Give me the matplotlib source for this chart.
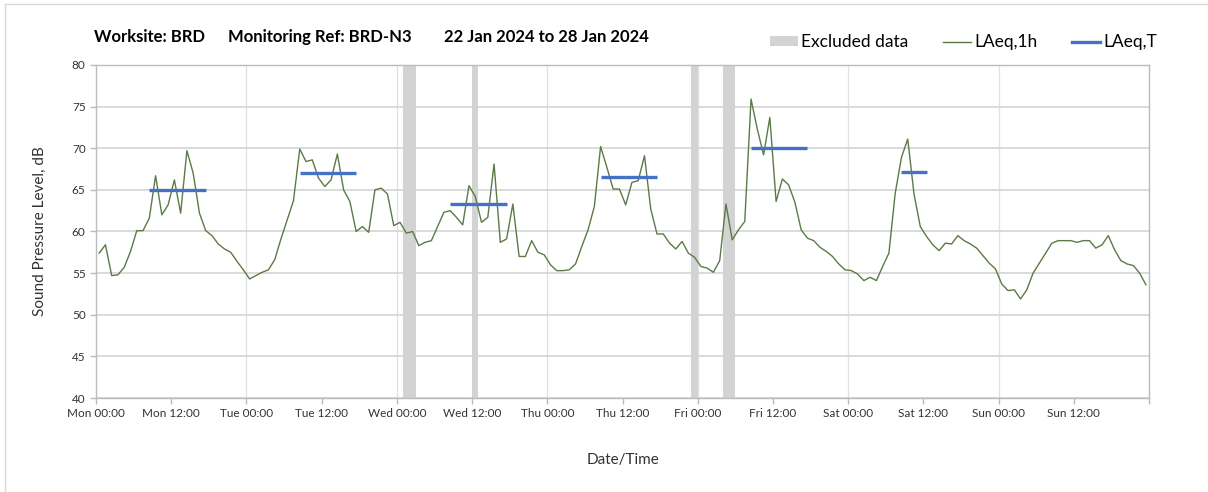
import numpy as np
import pandas as pd
import matplotlib
matplotlib.use("Agg")
import matplotlib.pyplot as plt
import matplotlib.dates as mdates
from matplotlib.patches import Patch
from matplotlib.lines import Line2D

plt.rcParams['font.family'] = ['Lato', 'DejaVu Sans']

# hourly LAeq,1h values, Mon 22 Jan 00:00 .. Sun 28 Jan 23:00
mon = [57.4, 58.4, 54.7, 54.8, 55.7, 57.6, 60.1, 60.1, 61.6, 66.7, 62.0, 63.2,
       66.2, 62.2, 69.7, 67.0, 62.2, 60.1, 59.5, 58.5, 57.9, 57.5, 56.4, 55.4]
tue = [54.3, 54.7, 55.1, 55.4, 56.6, 59.1, 61.4, 63.7, 69.9, 68.4, 68.6, 66.4,
       65.4, 66.2, 69.3, 65.0, 63.6, 60.0, 60.6, 59.9, 65.0, 65.2, 64.5, 60.7]
wed = [61.1, 59.8, 60.0, 58.3, 58.7, 58.9, 60.6, 62.3, 62.5, 61.7, 60.8, 65.5,
       64.2, 61.1, 61.7, 68.1, 58.7, 59.1, 63.3, 57.0, 57.0, 58.9, 57.5, 57.2]
thu = [56.0, 55.3, 55.3, 55.4, 56.1, 58.2, 60.2, 63.0, 70.2, 67.7, 65.1, 65.1,
       63.2, 65.9, 66.1, 69.1, 62.7, 59.7, 59.7, 58.6, 57.9, 58.8, 57.4, 56.9]
fri = [55.8, 55.6, 55.1, 56.5, 63.3, 59.0, 60.2, 61.2, 75.9, 72.3, 69.2, 73.7,
       63.6, 66.3, 65.6, 63.5, 60.2, 59.2, 58.9, 58.1, 57.6, 57.0, 56.1, 55.4]
sat = [55.3, 54.9, 54.1, 54.5, 54.1, 55.8, 57.4, 64.6, 68.9, 71.1, 64.5, 60.6,
       59.4, 58.4, 57.7, 58.6, 58.5, 59.5, 58.9, 58.5, 58.0, 57.1, 56.2, 55.5]
sun = [53.7, 52.9, 53.0, 51.9, 53.0, 55.0, 56.2, 57.4, 58.6, 58.9, 58.9, 58.9,
       58.7, 58.9, 58.9, 58.0, 58.4, 59.5, 57.8, 56.5, 56.1, 55.9, 55.0, 53.6]
laeq_1h = mon + tue + wed + thu + fri + sat + sun

# LAeq,T working periods (start, end, level)
t_start = ['2024-01-22 08:00', '2024-01-23 08:00', '2024-01-24 08:00',
           '2024-01-25 08:00', '2024-01-26 08:00', '2024-01-27 08:00']
t_end = ['2024-01-22 18:00', '2024-01-23 18:00', '2024-01-24 18:00',
         '2024-01-25 18:00', '2024-01-26 18:00', '2024-01-27 13:00']
laeq_t = [65.0, 67.0, 63.3, 66.5, 70.0, 67.1]

# excluded periods
ex_start = ['2024-01-24 01:00', '2024-01-24 12:00', '2024-01-25 23:00', '2024-01-26 04:00']
ex_end = ['2024-01-24 03:00', '2024-01-24 13:00', '2024-01-26 00:00', '2024-01-26 06:00']

half = pd.Timedelta(minutes=30)
times = pd.date_range('2024-01-22 00:00', periods=len(laeq_1h), freq='h') + half
x_end = pd.Timestamp('2024-01-29 00:00')

fig = plt.figure(figsize=(12.08, 4.92), dpi=100)
ax = fig.add_axes([0.0795, 0.191, 0.8717, 0.677])

for s, e in zip(ex_start, ex_end):
    ax.axvspan(pd.Timestamp(s), pd.Timestamp(e), color='#d3d3d3', lw=0, zorder=1)

ax.plot(times, laeq_1h, color='#5b7a46', lw=1.0, zorder=3)

for s, e, v in zip(t_start, t_end, laeq_t):
    ax.plot([pd.Timestamp(s) + half, pd.Timestamp(e) - half], [v, v],
            color='#4472c4', lw=2.4, solid_capstyle='butt', zorder=4)

ax.set_xlim(pd.Timestamp('2024-01-22 00:00'), x_end)
ax.set_ylim(40, 80)
ax.set_yticks(np.arange(40, 81, 5))
ax.xaxis.set_major_locator(mdates.HourLocator(byhour=[0, 12]))
end_num = mdates.date2num(x_end)
ax.xaxis.set_major_formatter(plt.FuncFormatter(
    lambda v, p: '' if abs(v - end_num) < 1e-6 else mdates.num2date(v).strftime('%a %H:%M')))

ax.grid(axis='y', color='#d4d4d4', lw=1.2, zorder=0)
for d in pd.date_range('2024-01-23', periods=6, freq='D'):
    ax.axvline(d, color='#e0e0e0', lw=0.9, zorder=0)
ax.set_axisbelow(True)

for sp in ax.spines.values():
    sp.set_color('#bcbcbc')
    sp.set_linewidth(1.0)
ax.tick_params(axis='both', colors='#bcbcbc', labelcolor='#333333', labelsize=8.5,
               length=4, width=1.0)

ax.set_ylabel('Sound Pressure Level, dB', fontsize=11, color='#333333', labelpad=18)
ax.set_xlabel('Date/Time', fontsize=11, color='#333333', labelpad=24)

fig.text(0.078, 0.925, 'Worksite: BRD', fontsize=12, fontweight='bold', va='center')
fig.text(0.1887, 0.925, 'Monitoring Ref: BRD-N3', fontsize=12, fontweight='bold', va='center')
fig.text(0.3675, 0.925, '22 Jan 2024 to 28 Jan 2024', fontsize=12, fontweight='bold', va='center')

handles = [Patch(facecolor='#d3d3d3', edgecolor='none'),
           Line2D([], [], color='#5b7a46', lw=1.0),
           Line2D([], [], color='#4472c4', lw=2.4)]
fig.legend(handles, ['Excluded data', 'LAeq,1h', 'LAeq,T'], loc='center right',
           bbox_to_anchor=(0.971, 0.914), ncol=3, frameon=False, fontsize=12.5,
           handlelength=1.6, handleheight=0.55, handletextpad=0.2, columnspacing=2.0)

# light outer border
fig.add_artist(Line2D([0.004, 0.004], [0, 0.992], color='#d9d9d9', lw=1.0))
fig.add_artist(Line2D([0.004, 1.0], [0.992, 0.992], color='#d9d9d9', lw=1.0))

fig.savefig('out.png', dpi=100)
